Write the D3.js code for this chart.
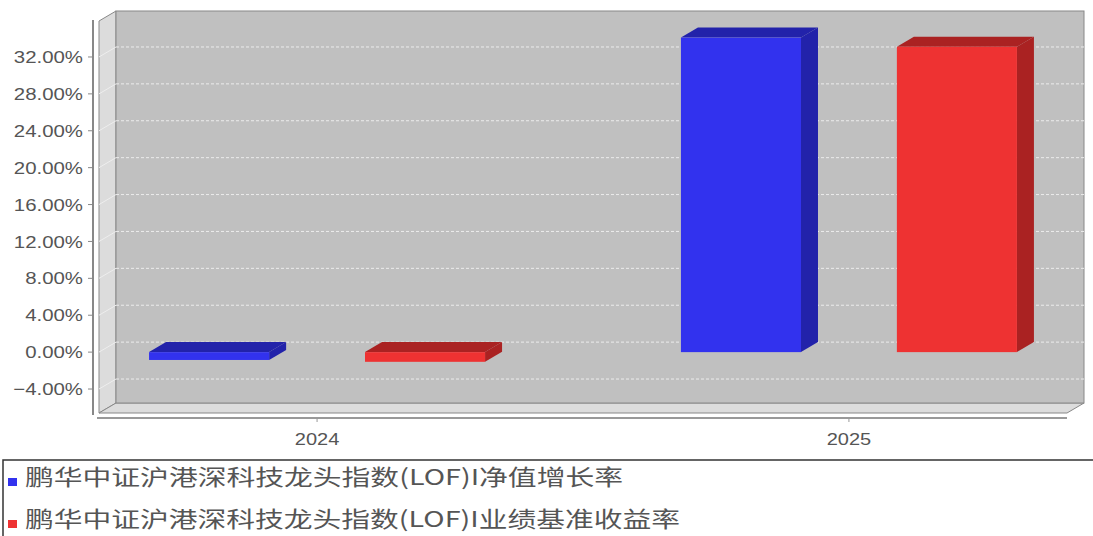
<!DOCTYPE html>
<html>
<head>
<meta charset="utf-8">
<script src="https://cdn.jsdelivr.net/npm/d3@7"></script>
<style>
  html, body { margin: 0; padding: 0; background: #fff; }
  svg { display: block; }
  text { font-family: "Liberation Sans", Arial, sans-serif; fill: #555; }
  .legend-text { font-family: "Noto Sans CJK SC", sans-serif; fill: #555; }
</style>
</head>
<body>
<svg id="chart" width="1093" height="536"></svg>
<script>
// --- data ---
const CATEGORIES = ['2024', '2025'];
const SERIES = ['鹏华中证沪港深科技龙头指数(LOF)I净值增长率', '鹏华中证沪港深科技龙头指数(LOF)I业绩基准收益率'];
const NAV_GROWTH = [-0.85, 34.1];     // 净值增长率 (%)
const BENCHMARK  = [-1.05, 33.1];     // 业绩基准收益率 (%)
const Y_TICKS = [-4, 0, 4, 8, 12, 16, 20, 24, 28, 32];

const FRONT = ['#3232ee', '#ee3232'];
const DARK  = ['#2222aa', '#aa2222'];

const DX = 17, DY = -10;   // 3D depth offset
const svg = d3.select('#chart');

const x0 = d3.scalePoint().domain(CATEGORIES).range([99, 1067]).padding(0.41);
const x1 = d3.scaleBand().domain(d3.range(SERIES.length)).range([-168, 168]).paddingInner(0.444);
const y = d3.scaleLinear().domain([-6.6, 35.9]).range([413, 21]);

const L = 99, R = 1067, T = y.range()[1], B = y.range()[0];

// --- walls ---
svg.append('polygon')  // left wall
  .attr('points', [[L, T], [L + DX, T + DY], [L + DX, B + DY], [L, B]].join(' '))
  .attr('fill', '#dcdcdc').attr('stroke', '#888').attr('stroke-width', 1);
svg.append('polygon')  // floor
  .attr('points', [[L, B], [L + DX, B + DY], [R + DX, B + DY], [R, B]].join(' '))
  .attr('fill', '#dcdcdc').attr('stroke', '#888').attr('stroke-width', 1);
svg.append('rect')     // back wall
  .attr('x', L + DX).attr('y', T + DY)
  .attr('width', R - L).attr('height', B - T)
  .attr('fill', '#c0c0c0').attr('stroke', '#888').attr('stroke-width', 1);

// gridlines on back wall + faint diagonals on the left wall
const grid = svg.append('g');
Y_TICKS.forEach(v => {
  grid.append('line')
    .attr('x1', L + DX).attr('x2', R + DX)
    .attr('y1', y(v) + DY).attr('y2', y(v) + DY)
    .attr('stroke', '#ececec').attr('stroke-width', 1).attr('stroke-dasharray', '3,2');
  grid.append('line')
    .attr('x1', L).attr('x2', L + DX)
    .attr('y1', y(v)).attr('y2', y(v) + DY)
    .attr('stroke', '#eeeeee').attr('stroke-width', 1);
});

// --- bars ---
const rows = [];
CATEGORIES.forEach((c, i) => {
  [NAV_GROWTH[i], BENCHMARK[i]].forEach((v, s) => rows.push({ c, s, v }));
});
const bars = svg.append('g').selectAll('g').data(rows).join('g');
bars.each(function(d){
  const g = d3.select(this);
  const bx = x0(d.c) + x1(d.s), bw = x1.bandwidth();
  const yt = y(Math.max(0, d.v)), yb = y(Math.min(0, d.v));
  g.append('polygon')  // top face
    .attr('points', [[bx, yt], [bx + DX, yt + DY], [bx + bw + DX, yt + DY], [bx + bw, yt]].join(' '))
    .attr('fill', DARK[d.s]);
  g.append('polygon')  // side face
    .attr('points', [[bx + bw, yt], [bx + bw + DX, yt + DY], [bx + bw + DX, yb + DY], [bx + bw, yb]].join(' '))
    .attr('fill', DARK[d.s]);
  g.append('rect')     // front face
    .attr('x', bx).attr('y', yt).attr('width', bw).attr('height', yb - yt)
    .attr('fill', FRONT[d.s]);
});

// --- y axis ---
svg.append('line').attr('x1', 93).attr('x2', 93).attr('y1', 20).attr('y2', 415)
  .attr('stroke', '#888').attr('stroke-width', 2);
const yt = svg.append('g').selectAll('g').data(Y_TICKS).join('g')
  .attr('transform', d => `translate(0,${y(d)})`);
yt.append('line').attr('x1', 88).attr('x2', 93).attr('stroke', '#888');
yt.append('text')
  .attr('transform', 'translate(83,0) scale(1.2,1)')
  .attr('text-anchor', 'end').attr('dy', '0.36em')
  .style('font-size', '17px')
  .text(d => d3.format('.2f')(d) + '%');

// --- x axis ---
svg.append('line').attr('x1', 97).attr('x2', R).attr('y1', 418).attr('y2', 418)
  .attr('stroke', '#999').attr('stroke-width', 2);
const xt = svg.append('g').selectAll('g').data(CATEGORIES).join('g')
  .attr('transform', d => `translate(${x0(d)},418)`);
xt.append('line').attr('y1', 0).attr('y2', 4).attr('stroke', '#999');
xt.append('text')
  .attr('transform', 'translate(0,27) scale(1.25,1)')
  .attr('text-anchor', 'middle')
  .style('font-size', '16px')
  .text(d => d);

// --- legend ---
svg.append('rect').attr('x', 3).attr('y', 460).attr('width', 1100).attr('height', 90)
  .attr('fill', '#fff').attr('stroke', '#333').attr('stroke-width', 1.5);
const LEGEND_LEN = [598, 655];
const lg = svg.append('g').selectAll('g').data(SERIES).join('g')
  .attr('transform', (d, i) => `translate(0,${477 + i * 42})`);
lg.append('rect').attr('x', 8).attr('y', 1).attr('width', 9).attr('height', 8)
  .attr('fill', (d, i) => FRONT[i]);
lg.append('text').attr('class', 'legend-text')
  .attr('x', 25).attr('dy', '0.36em')
  .attr('textLength', (d, i) => LEGEND_LEN[i]).attr('lengthAdjust', 'spacingAndGlyphs')
  .style('font-size', '22px')
  .text(d => d);
</script>
</body>
</html>
